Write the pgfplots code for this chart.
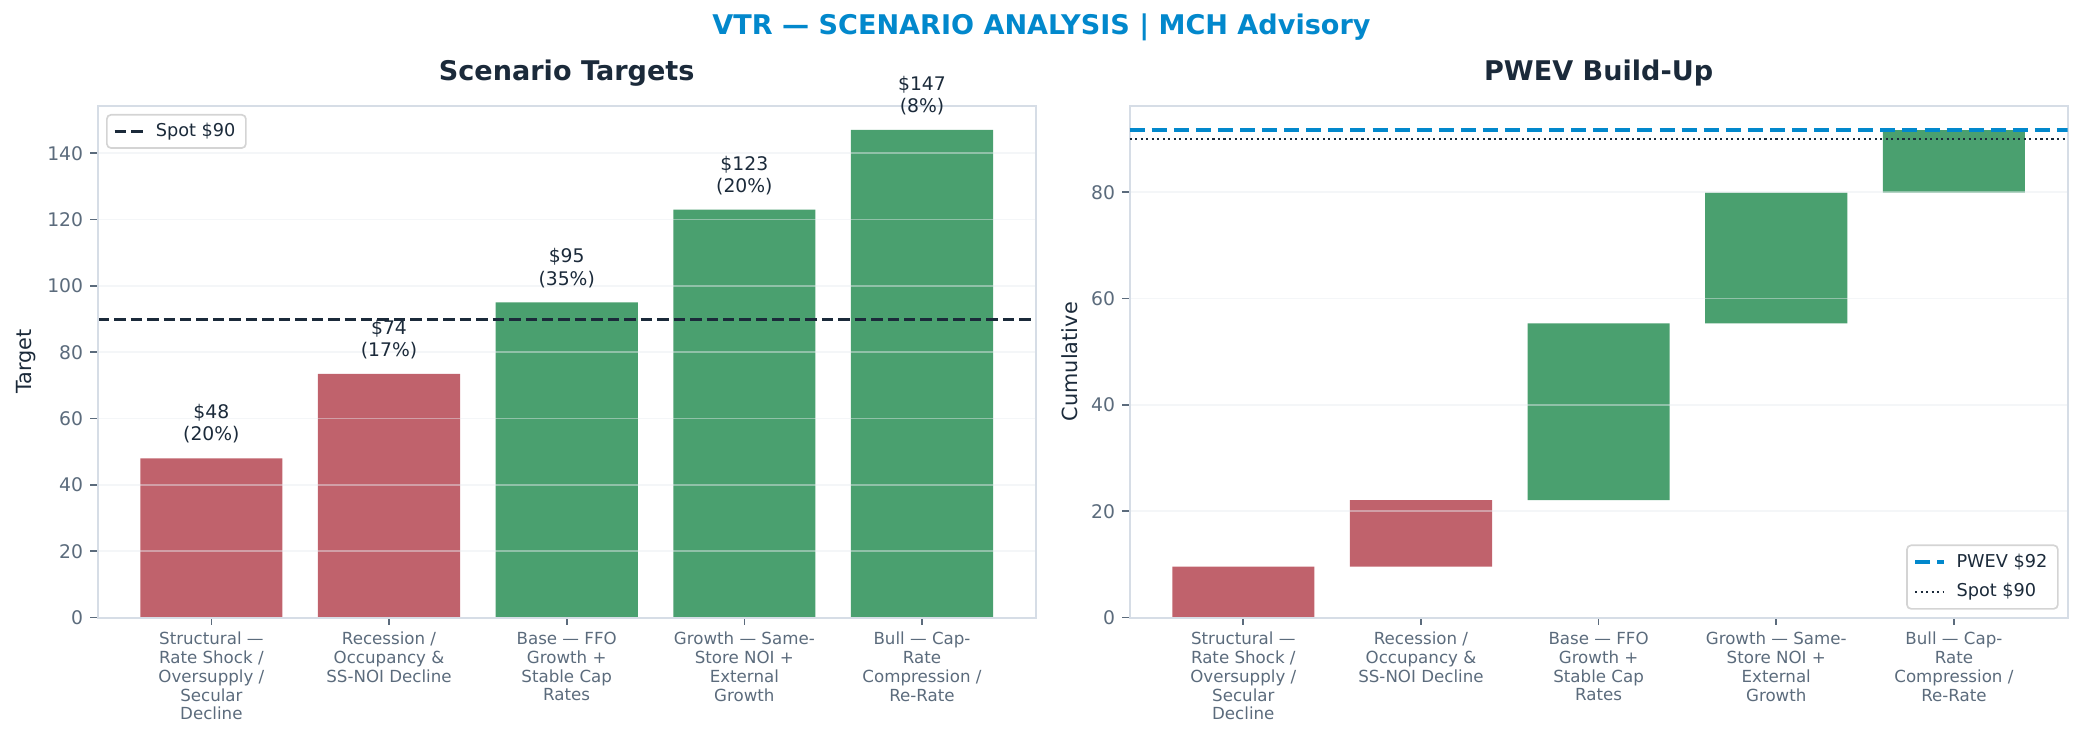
\documentclass[border=0pt]{standalone}
\usepackage{fontspec}
\setmainfont{DejaVu Sans}
\usepackage{pgfplots}
\pgfplotsset{compat=1.18}
\definecolor{cred}{HTML}{C0626C}
\definecolor{cgreen}{HTML}{4AA06F}
\definecolor{cblue}{HTML}{0288CC}
\definecolor{cdark}{HTML}{1B2A3A}
\definecolor{cgray}{HTML}{5B6B7C}
\definecolor{cspine}{HTML}{D6DDE6}
\definecolor{cgrid}{HTML}{E6EAEF}
\definecolor{clegend}{HTML}{D4D4D4}
\pgfplotsset{
  common/.style={
    scale only axis, width=450.3pt, height=245.8pt,
    xmin=-0.64, xmax=4.64, ymin=0,
    axis line style={cspine, line width=0.9pt},
    tick align=outside, tick pos=left, major tick length=3.5pt,
    tick style={cgray, line width=0.8pt},
    xtick={0,...,4},
    xticklabels={{Structural —\\Rate Shock /\\Oversupply /\\Secular\\Decline},
                 {Recession /\\Occupancy \&\\SS-NOI Decline},
                 {Base — FFO\\Growth +\\Stable Cap\\Rates},
                 {Growth — Same-\\Store NOI +\\External\\Growth},
                 {Bull — Cap-\\Rate\\Compression /\\Re-Rate}},
    ymajorgrids, grid style={cgrid, line width=0.8pt, opacity=0.45},
    axis on top,
    /pgf/number format/assume math mode=true,
    yticklabel style={font=\fontsize{9}{10}\selectfont, text=cgray},
    xticklabel style={font=\fontsize{8}{9}\selectfont, text=cgray, align=center, anchor=north},
    title style={font=\fontsize{13}{15}\selectfont\bfseries, text=cdark, at={(0.5,1)}, anchor=base, yshift=6pt},
    label style={font=\fontsize{10}{12}\selectfont, text=cdark},
    legend cell align=left,
    legend image code/.code={\draw[##1] (0pt,0pt) -- (14pt,0pt);},
    legend style={font=\fontsize{8.5}{10}\selectfont, text=cdark, draw=clegend, rounded corners=2pt, fill=white, line width=0.8pt,
      /tikz/every odd column/.append style={column sep=3pt}},
  },
  lab/.style={nodes near coords, point meta=explicit symbolic,
    nodes near coords style={anchor=south, inner sep=0pt, yshift=7pt, align=center, font=\fontsize{9}{10.6}\selectfont, text=cdark}},
}
\begin{document}
\begin{tikzpicture}
\useasboundingbox (0,0) rectangle (1000pt,-356.2pt);
\node[anchor=base, font=\fontsize{13}{15}\selectfont\bfseries, text=cblue] at (500pt,-16.8pt) {VTR — SCENARIO ANALYSIS | MCH Advisory};

\begin{axis}[common, at={(46.9pt,-296.5pt)}, anchor=south west,
  ymax=154.35, ytick={0,20,...,140},
  title={Scenario Targets}, ylabel={Target},
  ylabel style={at={(axis description cs:-0.0704,0.5)}, anchor=base},
  legend style={at={(axis description cs:0.0089,0.9837)}, anchor=north west}]
\addplot [ybar, bar width=0.8, bar shift=0pt, fill=cred, draw=none, forget plot, lab]
  coordinates {(0,48) [\$48\\(20\%)] (1,73.5) [\$74\\(17\%)]};
\addplot [ybar, bar width=0.8, bar shift=0pt, fill=cgreen, draw=none, forget plot, lab]
  coordinates {(2,95) [\$95\\(35\%)] (3,123) [\$123\\(20\%)] (4,147) [\$147\\(8\%)]};
\addplot [cdark, line width=1.5pt, dash pattern=on 5.5pt off 2.4pt] coordinates {(-0.64,90) (4.64,90)};
\addlegendentry{Spot \$90}
\end{axis}

\begin{axis}[common, at={(542.3pt,-296.5pt)}, anchor=south west,
  ymax=96.3, ytick={0,20,...,80},
  title={PWEV Build-Up}, ylabel={Cumulative},
  ylabel style={at={(axis description cs:-0.0555,0.5)}, anchor=base},
  ybar stacked, bar width=0.8]
\addplot [fill=none, draw=none] coordinates {(0,0) (1,9.6) (2,22.095) (3,55.345) (4,79.945)};
\addplot [fill=cred, draw=none] coordinates {(0,9.6) (1,12.495) (2,0) (3,0) (4,0)};
\addplot [fill=cgreen, draw=none] coordinates {(0,0) (1,0) (2,33.25) (3,24.6) (4,11.76)};
\end{axis}

\begin{axis}[scale only axis, width=450.3pt, height=245.8pt, at={(542.3pt,-296.5pt)}, anchor=south west,
  xmin=-0.64, xmax=4.64, ymin=0, ymax=96.3, hide axis,
  legend cell align=left,
  legend image code/.code={\draw[#1] (0pt,0pt) -- (14pt,0pt);},
  legend style={font=\fontsize{8.5}{10}\selectfont, text=cdark, draw=clegend, rounded corners=2pt, fill=white, line width=0.8pt,
    row sep=2.2pt, inner ysep=2.2pt, /tikz/every odd column/.append style={column sep=3pt},
    at={(axis description cs:0.9905,0.0155)}, anchor=south east}]
\addplot [cblue, line width=1.8pt, dash pattern=on 7.2pt off 3.4pt] coordinates {(-0.64,91.705) (4.64,91.705)};
\addlegendentry{PWEV \$92}
\addplot [cdark, line width=1pt, dash pattern=on 1pt off 1.65pt] coordinates {(-0.64,90) (4.64,90)};
\addlegendentry{Spot \$90}
\end{axis}
\end{tikzpicture}
\end{document}
